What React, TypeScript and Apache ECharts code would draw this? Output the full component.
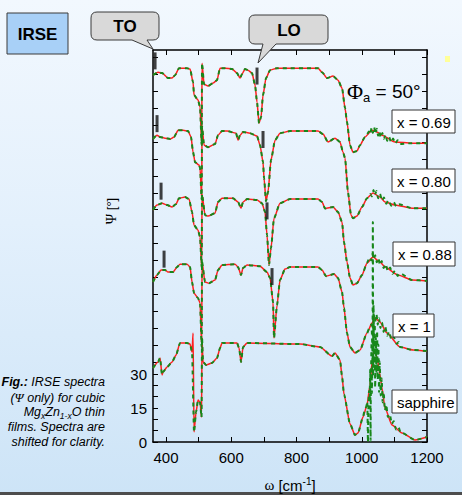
import React, { useEffect, useRef } from 'react';
import * as echarts from 'echarts';

const SANS = '"Liberation Sans", Arial, Helvetica, sans-serif';
const SERIF = '"Liberation Serif", "DejaVu Serif", "Times New Roman", serif';

// axis ticks / labels
const xTickValues = [400, 500, 600, 700, 800, 900, 1000, 1100, 1200];
const xLabelValues = [400, 600, 800, 1000, 1200];
const yLabelValues = [0, 15, 30];
const yTickValues = [0, 5, 10, 15, 20, 25, 30, 35, 42.5, 50, 57.5, 65, 72.5, 80, 87.5, 95, 102.5, 110, 117.5, 125, 132.5, 140, 147.5, 155, 162.5, 170];

const curveNames = ['x = 0.69', 'x = 0.80', 'x = 0.88', 'x = 1', 'sapphire'];

// model (red) spectra, [omega, Psi(shifted)]
const red069 = [[360,161.9],[375.5,163.2],[387.7,162.8],[406.1,160.6],[418.4,160.6],[427.6,161.9],[439.8,165.0],[464.4,165.0],[473.6,164.6],[482.8,158.8],[485.8,153.1],[498.1,150.9],[504.2,147.8],[509.3,131.0],[510.3,167.2],[516.5,157.9],[528.7,157.1],[544.1,158.4],[556.3,159.7],[565.5,165.0],[580.8,165.0],[602.3,164.6],[617.6,162.8],[626.8,160.6],[633.0,162.4],[642.1,164.6],[651.3,164.1],[663.6,162.8],[672.8,157.5],[678.9,150.0],[685.1,140.7],[691.2,143.4],[697.3,153.1],[706.5,160.6],[718.8,164.1],[740.2,165.0],[866,165.0],[878.2,163.2],[893.5,160.6],[911.9,161.5],[927.2,159.7],[939.5,156.2],[948.7,147.4],[954.8,141.2],[964.0,131.0],[973.2,127.9],[985.4,128.4],[994.6,131.0],[1009.9,134.6],[1031.4,137.6],[1046.7,136.8],[1062.1,135.4],[1101.9,132.4],[1154.0,131.9],[1200,131.9]];
const red080 = [[360,133.7],[372.4,135.4],[381.6,134.6],[396.9,134.1],[412.3,133.7],[424.5,134.6],[436.8,137.6],[452.1,137.6],[467.4,137.2],[476.6,134.6],[482.8,127.9],[488.9,123.5],[501.1,122.2],[504.2,120.9],[509.3,107.0],[510.3,139.4],[516.5,131.0],[528.7,130.1],[550.2,131.5],[559.4,135.4],[571.6,137.2],[587.0,137.2],[614.6,136.3],[620.7,133.2],[626.8,135.4],[636.0,136.8],[657.5,136.3],[678.9,135.0],[688.1,131.0],[697.3,123.5],[700.4,116.5],[706.5,106.3],[712.6,110.3],[721.8,124.4],[734.1,133.2],[749.4,136.3],[780.1,137.2],[866,137.2],[881.2,135.9],[896.5,132.4],[918.0,134.1],[933.3,132.4],[942.5,127.9],[948.7,125.3],[957.9,110.0],[967.1,100.1],[973.2,98.8],[985.4,99.7],[1000.8,103.7],[1016.1,107.6],[1034.5,109.9],[1056.0,108.1],[1071.3,105.9],[1101.9,104.6],[1154.0,103.2],[1200,103.2]];
const red088 = [[360,102.4],[372.4,104.6],[387.7,105.4],[403.1,104.6],[418.4,103.7],[430.7,105.0],[439.8,107.6],[458.2,108.1],[470.5,107.2],[479.7,101.5],[485.8,95.7],[498.1,93.5],[504.2,90.4],[509.3,77.0],[510.3,109.4],[519.5,100.1],[528.7,99.7],[550.2,101.0],[559.4,105.9],[571.6,107.6],[605.4,107.6],[620.7,105.9],[629.9,103.2],[636.0,105.9],[648.3,107.2],[678.9,106.8],[694.2,105.4],[703.4,101.5],[709.6,91.3],[715.7,78.1],[721.8,85.6],[731.0,98.8],[749.4,105.4],[780.1,107.2],[866,107.2],[878.2,105.9],[887.4,103.0],[911.9,103.7],[927.2,101.5],[939.5,97.1],[945.6,88.2],[954.8,79.4],[964.0,72.4],[973.2,69.3],[985.4,70.1],[1000.8,73.7],[1016.1,79.0],[1034.5,81.6],[1056.0,79.4],[1071.3,77.2],[1111.1,73.7],[1154.0,71.5],[1200,71.1]];
const red100 = [[360,70.6],[372.4,73.7],[384.7,75.9],[396.9,75.9],[406.1,75.0],[421.5,75.0],[433.7,77.2],[442.9,78.5],[464.4,78.5],[473.6,77.2],[479.7,70.6],[485.8,65.7],[498.1,63.5],[504.2,61.3],[509.3,42.0],[510.3,79.4],[519.5,70.6],[531.8,70.1],[550.2,71.5],[559.4,75.9],[571.6,78.1],[611.5,78.5],[620.7,77.2],[629.9,73.7],[636.0,76.8],[648.3,78.1],[688.1,77.6],[709.6,75.0],[718.8,72.4],[728.0,61.8],[731.0,45.9],[740.2,60.4],[749.4,71.5],[764.7,76.3],[780.1,77.2],[866,77.2],[878.2,75.9],[890.4,73.2],[915.0,74.1],[927.2,72.4],[939.5,66.2],[945.6,59.1],[954.8,48.1],[964.0,41.9],[979.3,39.3],[994.6,40.6],[1016.1,48.1],[1031.4,52.5],[1040.6,54.7],[1056.0,52.9],[1077.4,48.1],[1117.2,41.9],[1157.1,40.6],[1200,40.1]];
const redSapphire = [[360,32.6],[375.5,35.3],[381.6,37.1],[387.7,29.6],[390.8,30.9],[403.1,33.1],[418.4,35.3],[430.7,38.4],[442.9,43.7],[464.4,43.7],[473.6,43.2],[479.7,39.7],[482.8,48.1],[485.8,4.4],[492.0,13.2],[498.1,18.5],[504.2,17.6],[508.8,11.0],[510.3,45.9],[513.4,35.3],[522.6,34.0],[541.0,34.9],[556.3,37.1],[565.5,41.5],[571.6,43.7],[617.6,43.7],[623.8,41.5],[629.9,35.3],[636.0,41.9],[648.3,43.7],[810.7,43.2],[872.0,41.9],[908.8,37.9],[918.0,39.3],[933.3,36.2],[939.5,29.0],[945.6,21.0],[964.0,8.0],[979.3,3.1],[988.5,4.0],[1003.8,11.0],[1016.1,16.3],[1025.3,25.1],[1031.4,35.3],[1037.5,40.6],[1046.7,37.5],[1056.0,29.6],[1062.1,23.8],[1071.3,15.0],[1092.7,7.5],[1123.4,4.0],[1163.2,0.9],[1200,2.2]];

const noise069 = [[1015,135.5],[1022,137.0],[1026,135.8],[1030,138.6],[1034,136.4],[1038,138.9],[1042,136.0],[1046,138.2],[1050,135.2],[1054,137.1],[1058,134.3],[1063,136.4],[1068,133.8],[1073,135.6],[1078,132.9],[1084,134.6],[1090,132.2],[1096,133.9],[1103,131.7],[1110,133.2],[1118,131.5]];
const noise080 = [[1020,107.9],[1026,109.5],[1031,108.4],[1036,111.2],[1040,109.0],[1045,110.8],[1050,107.6],[1056,109.5],[1062,106.5],[1068,107.9],[1075,105.2],[1082,106.7],[1090,104.3],[1098,105.8],[1106,103.9],[1114,104.9]];
const noise088 = [[1018,79.6],[1024,81.5],[1029,80.1],[1033,83.0],[1037,80.6],[1041,82.4],[1046,79.3],[1051,81.2],[1056,78.1],[1061,79.9],[1067,76.8],[1073,78.5],[1080,75.4],[1087,77.0],[1094,74.2],[1102,75.6],[1110,73.3],[1118,74.4]];
const noise100 = [[1016,48.0],[1024,50.5],[1030,52.0],[1033,39.3],[1034,97.1],[1035,39.5],[1037,56.0],[1041,53.2],[1045,56.4],[1049,51.8],[1053,54.6],[1057,50.3],[1062,52.8],[1067,48.6],[1072,50.9],[1078,46.9],[1084,48.7],[1091,45.0],[1098,46.4],[1106,43.4],[1114,44.1]];
const noiseSapphire = [[1008,13.5],[1013,15.2],[1017,17.8],[1019,0],[1020,14.0],[1022,22.5],[1024,18.0],[1026,32.0],[1027,0.5],[1028,27.0],[1030,44.0],[1031,21.5],[1033,38.5],[1035,29.0],[1036,60.5],[1038,33.0],[1040,52.0],[1041,24.0],[1043,46.5],[1045,30.5],[1047,49.0],[1049,27.5],[1051,43.0],[1053,22.0],[1055,35.5],[1058,20.5],[1061,28.0],[1064,17.5],[1067,22.0],[1071,14.0],[1075,16.5],[1080,11.0],[1086,12.3],[1092,8.0],[1098,9.2],[1105,5.5],[1112,6.6],[1120,4.0]];

// TO / LO marker bars
const toMarks = [[366.3,168.2],[372.4,140.5],[384.7,110.7],[393.9,80.7]];
const loMarks = [[678.9,161.5],[697.3,133.5],[709.6,102.0],[724.9,73.0]];

function withNoise(red: number[][], noise: number[][], windows: number[][]) {
  const kept = red.filter(p => !windows.some(([a, b]) => p[0] > a && p[0] < b));
  return kept.concat(noise).sort((a, b) => a[0] - b[0]);
}

const curves = [
  { red: red069, green: withNoise(red069, noise069, [[1012, 1120]]) },
  { red: red080, green: withNoise(red080, noise080, [[1017, 1116]]) },
  { red: red088, green: withNoise(red088, noise088, [[1017, 1120]]) },
  { red: red100, green: withNoise(red100, noise100, [[1014, 1116]]) },
  { red: redSapphire, green: withNoise(redSapphire, noiseSapphire, [[1005, 1122], [482, 484]]) },
];

const TO_PATH = 'M97,12 H153 Q159,12 159,18 V34 Q159,40 153,40 H147 L153,49 L132,40 H97 Q91,40 91,34 V18 Q91,12 97,12 Z';
const LO_PATH = 'M255,15 H322 Q328,15 328,21 V38 Q328,44 322,44 H276 L258,63 L263,44 H255 Q249,44 249,38 V21 Q249,15 255,15 Z';
echarts.graphic.registerShape('toCallout', echarts.graphic.extendPath(TO_PATH, {}));
echarts.graphic.registerShape('loCallout', echarts.graphic.extendPath(LO_PATH, {}));

const labelBoxes = [
  [392, 110, 63, 23],
  [392, 169, 63, 23],
  [393, 242, 62, 24],
  [393, 314, 41, 23],
  [392, 390, 65, 23],
];

function buildOption() {
  const series: any[] = [];
  curves.forEach((c) => {
    series.push({
      type: 'line', data: c.red, symbol: 'none', smooth: 0.2, smoothMonotone: 'x', silent: true, z: 2,
      lineStyle: { color: '#ff1f1f', width: 1.5 },
    });
    series.push({
      type: 'line', data: c.green, symbol: 'none', smooth: 0.2, smoothMonotone: 'x', silent: true, z: 3,
      lineStyle: { color: '#17871a', width: 2, type: [4, 4] },
    });
  });
  series.push({
    type: 'scatter', data: toMarks.concat(loMarks), symbol: 'rect', symbolSize: [3, 17], silent: true, z: 4,
    itemStyle: { color: '#111' },
  });

  const axisLine = { show: true, onZero: false, lineStyle: { color: '#000', width: 1.5 } };
  const tickStyle = { color: '#000', width: 1 };
  const plain = (v: number) => String(v);

  const subRich = {
    i: { fontFamily: SANS, fontStyle: 'italic', fontSize: 12.5, lineHeight: 16, fill: '#000' },
    b: { fontFamily: SANS, fontStyle: 'italic', fontWeight: 'bold', fontSize: 12.5, lineHeight: 16, fill: '#000' },
    g: { fontFamily: SERIF, fontStyle: 'italic', fontSize: 13, lineHeight: 16, fill: '#000' },
    s: { fontFamily: SANS, fontStyle: 'italic', fontSize: 8.5, lineHeight: 9, verticalAlign: 'bottom', fill: '#000' },
  };
  const captionLines = [
    '{b|Fig.:}{i| IRSE spectra}',
    '{i|(}{g|Ψ}{i| only) for cubic}',
    '{i|Mg}{s|x}{i|Zn}{s|1-x}{i|O thin}',
    '{i|films. Spectra are}',
    '{i|shifted for clarity.}',
  ];
  const captionY = [382, 397.5, 412, 427, 442];

  const graphic: any[] = [
    { type: 'rect', z: 100, shape: { x: 7, y: 13, width: 61, height: 41 }, style: { fill: '#a8d0f7', stroke: '#3a3a3a', lineWidth: 1 } },
    { type: 'text', z: 101, x: 37.5, y: 34, style: { text: 'IRSE', fontFamily: SANS, fontWeight: 'bold', fontSize: 17, fill: '#000', align: 'center', verticalAlign: 'middle' } },
    { type: 'toCallout', z: 100, x: 0, y: 0, style: { fill: '#d9d9d9', stroke: '#3a3a3a', lineWidth: 1 } },
    { type: 'text', z: 101, x: 125, y: 26, style: { text: 'TO', fontFamily: SANS, fontWeight: 'bold', fontSize: 17, fill: '#000', align: 'center', verticalAlign: 'middle' } },
    { type: 'loCallout', z: 100, x: 0, y: 0, style: { fill: '#d9d9d9', stroke: '#3a3a3a', lineWidth: 1 } },
    { type: 'text', z: 101, x: 289, y: 30, style: { text: 'LO', fontFamily: SANS, fontWeight: 'bold', fontSize: 17, fill: '#000', align: 'center', verticalAlign: 'middle' } },
    { type: 'rect', z: 100, shape: { x: 445, y: 56, width: 5, height: 6 }, style: { fill: '#ffff99' } },
    {
      type: 'text', z: 101, x: 347, y: 91,
      style: {
        text: '{p|Φ}{a|a}{t| = 50°}', align: 'left', verticalAlign: 'middle',
        rich: {
          p: { fontFamily: SERIF, fontSize: 22, lineHeight: 26, fill: '#000' },
          a: { fontFamily: SANS, fontSize: 13, lineHeight: 11, verticalAlign: 'bottom', fill: '#000' },
          t: { fontFamily: SANS, fontSize: 19, lineHeight: 26, fill: '#000' },
        },
      },
    },
    {
      type: 'text', z: 101, x: 111, y: 211, rotation: Math.PI / 2,
      style: {
        text: '{g|Ψ}{t| [°]}', align: 'center', verticalAlign: 'middle',
        rich: {
          g: { fontFamily: SERIF, fontSize: 14, fill: '#000' },
          t: { fontFamily: SANS, fontSize: 13, fill: '#000' },
        },
      },
    },
    {
      type: 'text', z: 101, x: 290, y: 485,
      style: {
        text: '{w|ω}{t| [cm}{s|-1}{t|]}', align: 'center', verticalAlign: 'middle',
        rich: {
          w: { fontFamily: SERIF, fontSize: 15, lineHeight: 18, fill: '#000' },
          t: { fontFamily: SANS, fontSize: 15, lineHeight: 18, fill: '#000' },
          s: { fontFamily: SANS, fontSize: 10, lineHeight: 9, verticalAlign: 'top', fill: '#000' },
        },
      },
    },
    { type: 'rect', z: 100, shape: { x: 0, y: 492, width: 462, height: 3 }, style: { fill: '#4d4d4d' } },
  ];
  labelBoxes.forEach((b, i) => {
    graphic.push({ type: 'rect', z: 100, shape: { x: b[0], y: b[1], width: b[2], height: b[3] }, style: { fill: '#fff', stroke: '#333', lineWidth: 1 } });
    graphic.push({ type: 'text', z: 101, x: b[0] + 5, y: b[1] + b[3] / 2 + 0.5, style: { text: curveNames[i], fontFamily: SANS, fontSize: 15, fill: '#000', align: 'left', verticalAlign: 'middle' } });
  });
  captionLines.forEach((t, i) => {
    graphic.push({ type: 'text', z: 101, x: 105, y: captionY[i], style: { text: t, rich: subRich, align: 'right', verticalAlign: 'middle' } });
  });

  return {
    animation: false,
    backgroundColor: 'transparent',
    grid: { left: 153, right: 35, top: 50, bottom: 53, containLabel: false, outerBoundsMode: 'none' },
    xAxis: [
      {
        type: 'value', min: 360, max: 1200, position: 'bottom', axisLine, splitLine: { show: false },
        axisTick: { show: true, inside: true, length: 5, lineStyle: tickStyle, customValues: xTickValues },
        axisLabel: { show: true, customValues: xLabelValues, formatter: plain, fontFamily: SANS, fontSize: 15, color: '#000', margin: 8 },
      },
      {
        type: 'value', min: 360, max: 1200, position: 'top', axisLine, splitLine: { show: false },
        axisTick: { show: true, inside: true, length: 5, lineStyle: tickStyle, customValues: xTickValues },
        axisLabel: { show: false },
      },
    ],
    yAxis: [
      {
        type: 'value', min: 0, max: 173, position: 'left', axisLine, splitLine: { show: false },
        axisTick: { show: true, inside: true, length: 5, lineStyle: tickStyle, customValues: yTickValues },
        axisLabel: { show: true, customValues: yLabelValues, formatter: plain, fontFamily: SANS, fontSize: 15, color: '#000', margin: 6 },
      },
      {
        type: 'value', min: 0, max: 173, position: 'right', axisLine, splitLine: { show: false },
        axisTick: { show: true, inside: true, length: 5, lineStyle: tickStyle, customValues: yTickValues },
        axisLabel: { show: false },
      },
    ],
    series,
    graphic,
  };
}

export default function App() {
  const ref = useRef<HTMLDivElement>(null);
  useEffect(() => {
    if (!ref.current) return;
    const chart = echarts.init(ref.current, null, { renderer: 'svg' });
    chart.setOption(buildOption() as any);
    return () => chart.dispose();
  }, []);
  return (
    <div
      style={{
        position: 'fixed', left: 0, top: 0, width: 462, height: 495,
        background: 'linear-gradient(to bottom, #f2f8fe 0%, #e3f0fc 45%, #cde4f7 100%)',
      }}
    >
      <div ref={ref} style={{ width: 462, height: 495 }} />
    </div>
  );
}
